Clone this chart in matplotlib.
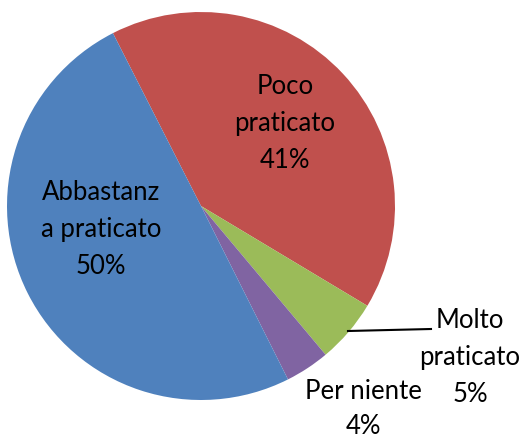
import matplotlib
matplotlib.use("Agg")
import matplotlib.pyplot as plt

categories = ["Poco\npraticato", "Molto\npraticato", "Per niente", "Abbastanz\na praticato"]
values = [41.1, 5.3, 3.7, 49.9]
colors = ["#C0504D", "#9BBB59", "#8064A2", "#4F81BD"]

W, H = 527, 441
fig = plt.figure(figsize=(W / 100, H / 100), dpi=100)
ax = fig.add_axes([0, 0, 1, 1])

cx, cy, r = 201, H - 206, 194
ax.pie(values, colors=colors, startangle=117.0, counterclock=False,
       center=(cx, cy), radius=r, frame=True,
       wedgeprops=dict(linewidth=0))
ax.set_xlim(0, W)
ax.set_ylim(0, H)
ax.set_aspect("equal")
ax.axis("off")

total = sum(values)
pcts = [f"{round(v / total * 100)}%" for v in values]

font = dict(family=["Lato", "DejaVu Sans"], fontsize=18.5, color="black",
            ha="center", va="center", linespacing=1.6)
label_pos = [(285, H - 123), (470, H - 358), (363, H - 409), (101, H - 229)]
for i, (lab, p, (x, y)) in enumerate(zip(categories, pcts, label_pos)):
    kw = dict(font)
    if lab == "Per niente":
        kw["linespacing"] = 1.5
    ax.text(x, y, f"{lab}\n{p}", **kw)

# leader line for small slice
ax.plot([348, 431], [H - 331, H - 329], color="black", lw=1.5)

fig.savefig("out.png", dpi=100)
